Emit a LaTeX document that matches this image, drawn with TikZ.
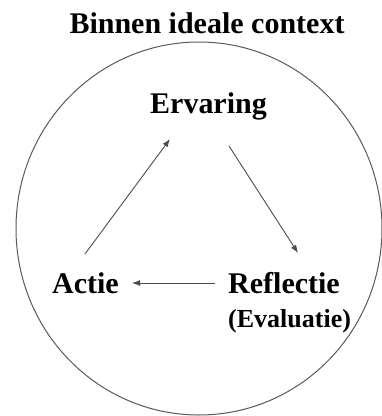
\documentclass[tikz,border=0pt]{standalone}
\usepackage{fontspec}
\setmainfont{Liberation Serif}
\usetikzlibrary{arrows.meta}
\begin{document}
\begin{tikzpicture}[x=1pt,y=-1pt,
  lbl/.style={font=\fontsize{30}{32}\selectfont\bfseries, inner sep=0pt, anchor=base},
  sublbl/.style={font=\fontsize{26}{28}\selectfont\bfseries, inner sep=0pt, anchor=base west},
  conn/.style={draw=black!70, line width=0.9pt, -{Latex[length=8pt,width=6pt]}}]
\useasboundingbox (0,0) rectangle (382,416);
\draw[black!65, line width=1pt] (199,228.5) ellipse [x radius=183, y radius=186.5];
\node[lbl] (title) at (207,33) {Binnen ideale context};
\node[lbl] (erv) at (208.5,113) {Ervaring};
\node[lbl] (actie) at (85.5,293) {Actie};
\node[lbl, anchor=base west] (refl) at (228,293) {Reflectie};
\node[sublbl] (eval) at (228,327) {(Evaluatie)};
\coordinate (a1s) at (85,254);
\coordinate (a1e) at (170,139);
\coordinate (a2s) at (229,146);
\coordinate (a2e) at (298,253);
\coordinate (a3s) at (215,283);
\coordinate (a3e) at (132,283);
\draw[conn] (a1s) -- (a1e);
\draw[conn] (a2s) -- (a2e);
\draw[conn] (a3s) -- (a3e);
\end{tikzpicture}
\end{document}
